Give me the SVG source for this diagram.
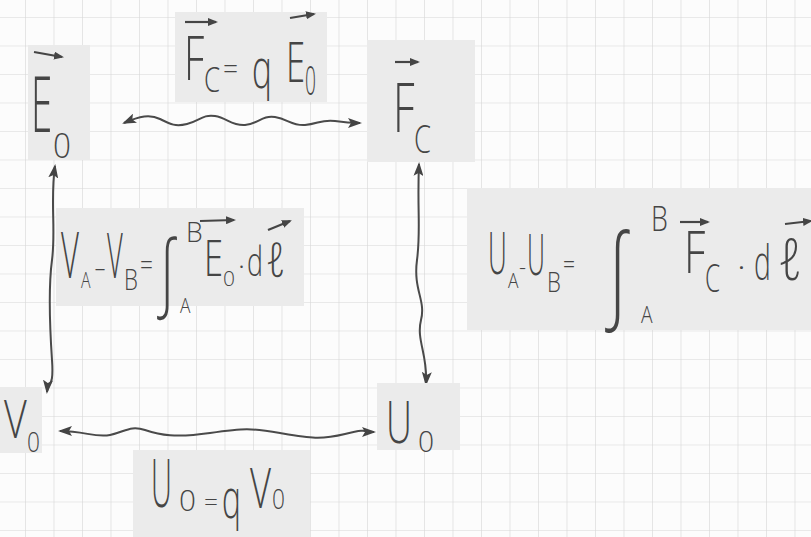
<svg xmlns="http://www.w3.org/2000/svg" width="811" height="537" viewBox="0 0 811 537">
<style>
.ink{font-family:"Open Sans","Liberation Sans",sans-serif;font-weight:300;fill:#454545}
.hl{fill:#ebebeb}
.vec{stroke:#454545;stroke-width:2.2;fill:none;marker-end:url(#vh)}
.conn{stroke:#4a4a4a;stroke-width:2;fill:none;marker-start:url(#ah);marker-end:url(#ah)}
</style>
<defs>
<pattern id="grid" x="25" y="17" width="28.5" height="28.5" patternUnits="userSpaceOnUse">
<path d="M0,0 H28.5 M0,0 V28.5" stroke="#d6d6d6" stroke-width="1.2" fill="none"/>
</pattern>
<marker id="ah" viewBox="0 0 14 10" refX="12" refY="5" markerWidth="14" markerHeight="10" markerUnits="userSpaceOnUse" orient="auto-start-reverse">
<path d="M0,0 L14,5 L0,10 L3,5 Z" fill="#444"/>
</marker>
<marker id="vh" viewBox="0 0 10 8" refX="8" refY="4" markerWidth="10" markerHeight="8" markerUnits="userSpaceOnUse" orient="auto">
<path d="M0,0 L10,4 L0,8 Z" fill="#454545"/>
</marker>
</defs>
<rect width="811" height="537" fill="#fcfcfc"/>
<rect width="811" height="537" fill="url(#grid)"/>

<g id="connectors">
<path class="conn" d="M124,123 C140,116 150,114 160,119 S175,127 187,124 S203,114 215,116 S232,126 245,125 S262,115 275,117 S292,126 305,125 S322,119 335,121 S350,123 360,123"/>
<path class="conn" d="M55,166 C50,200 56,230 52,260 S50,330 52,360 S48,380 47,392"/>
<path class="conn" d="M419,164 C417,210 421,230 417,260 S426,300 421,320 S428,355 426,384"/>
<path class="conn" d="M60,431 C85,431 95,438 110,435 S130,425 145,430 S175,438 210,433 S250,428 280,433 S320,440 345,434 S362,432 374,432"/>
</g>

<g id="node-E0">
<rect class="hl" x="28" y="45" width="62" height="115"/>
<path class="vec" d="M34,52 L62,57"/>
<text class="ink" font-size="77" transform="translate(31,132) scale(0.5,1)">E</text>
<text class="ink" font-size="35" transform="translate(53,158) scale(0.9,1)">0</text>
</g>

<g id="label-Fc-qE0">
<rect class="hl" x="175" y="12" width="152" height="90"/>
<path class="vec" d="M185,22 L216,22"/>
<path class="vec" d="M290,18 L314,14"/>
<text class="ink" font-size="60" transform="translate(184,80) scale(0.67,1)">F</text>
<text class="ink" font-size="35" transform="translate(204,92) scale(0.74,1)">C</text>
<text class="ink" font-size="30" transform="translate(223,79) scale(0.88,1)">=</text>
<text class="ink" font-size="55" transform="translate(252,88) scale(0.61,1)">q</text>
<text class="ink" font-size="55" transform="translate(286,82) scale(0.63,1)">E</text>
<text class="ink" font-size="40" transform="translate(305,95) scale(0.48,1)">0</text>
</g>

<g id="node-Fc">
<rect class="hl" x="367" y="40" width="108" height="122"/>
<path class="vec" d="M395,62 L418,62"/>
<text class="ink" font-size="68" transform="translate(393,132) scale(0.63,1)">F</text>
<text class="ink" font-size="39" transform="translate(414,153) scale(0.7,1)">C</text>
</g>

<g id="label-VA-VB">
<rect class="hl" x="56" y="208" width="248" height="98"/>
<path class="vec" d="M200,221 L234,220"/>
<path class="vec" d="M268,230 L290,221"/>
<text class="ink" font-size="64" transform="translate(61,278) scale(0.485,1)">V</text>
<text class="ink" font-size="22" transform="translate(81,288) scale(0.72,1)">A</text>
<text class="ink" font-size="26" transform="translate(94,277) scale(1.44,1)">-</text>
<text class="ink" font-size="62" transform="translate(107,278) scale(0.44,1)">V</text>
<text class="ink" font-size="30" transform="translate(124,290) scale(0.74,1)">B</text>
<text class="ink" font-size="28" transform="translate(140,275) scale(0.81,1)">=</text>
<text class="ink" font-size="84" transform="translate(157,300) scale(0.68,1)">∫</text>
<text class="ink" font-size="28" transform="translate(186,242) scale(0.95,1)">B</text>
<text class="ink" font-size="20" transform="translate(180,313) scale(0.87,1)">A</text>
<text class="ink" font-size="50" transform="translate(204,276) scale(0.69,1)">E</text>
<text class="ink" font-size="20" transform="translate(223,286) scale(1.05,1)">0</text>
<text class="ink" font-size="28" transform="translate(238,276) scale(1.05,1)">·</text>
<text class="ink" font-size="40" transform="translate(247,276) scale(0.67,1)">d</text>
<text class="ink" font-size="48" transform="translate(266,277) scale(0.83,1)">ℓ</text>
</g>

<g id="label-UA-UB">
<rect class="hl" x="467" y="188" width="344" height="142"/>
<path class="vec" d="M680,222 L708,222"/>
<path class="vec" d="M785,224 L811,221"/>
<text class="ink" font-size="58" transform="translate(488,274) scale(0.45,1)">U</text>
<text class="ink" font-size="20" transform="translate(508,288) scale(0.87,1)">A</text>
<text class="ink" font-size="22" transform="translate(519,275) scale(1,1)">-</text>
<text class="ink" font-size="58" transform="translate(527,275) scale(0.43,1)">U</text>
<text class="ink" font-size="28" transform="translate(547,292) scale(0.79,1)">B</text>
<text class="ink" font-size="26" transform="translate(563,273) scale(0.81,1)">=</text>
<text class="ink" font-size="104" transform="translate(605,308) scale(0.68,1)">∫</text>
<text class="ink" font-size="34" transform="translate(651,231) scale(0.79,1)">B</text>
<text class="ink" font-size="24" transform="translate(641,323) scale(0.8,1)">A</text>
<text class="ink" font-size="58" transform="translate(684,273) scale(0.73,1)">F</text>
<text class="ink" font-size="38" transform="translate(705,292) scale(0.64,1)">C</text>
<text class="ink" font-size="32" transform="translate(737,278) scale(1.16,1)">·</text>
<text class="ink" font-size="48" transform="translate(754,280) scale(0.59,1)">d</text>
<text class="ink" font-size="58" transform="translate(778,280) scale(0.84,1)">ℓ</text>
</g>

<g id="node-V0">
<rect class="hl" x="0" y="387" width="42" height="66"/>
<text class="ink" font-size="54" transform="translate(4,438) scale(0.73,1)">V</text>
<text class="ink" font-size="28" transform="translate(27,452) scale(0.81,1)">0</text>
</g>

<g id="node-U0">
<rect class="hl" x="377" y="383" width="83" height="67"/>
<text class="ink" font-size="58" transform="translate(386,443) scale(0.62,1)">U</text>
<text class="ink" font-size="30" transform="translate(418,452) scale(0.94,1)">0</text>
</g>

<g id="label-U0-qV0">
<rect class="hl" x="133" y="450" width="177" height="87"/>
<text class="ink" font-size="66" transform="translate(151,507) scale(0.44,1)">U</text>
<text class="ink" font-size="30" transform="translate(179,511) scale(0.99,1)">0</text>
<text class="ink" font-size="24" transform="translate(204,511) scale(1.02,1)">=</text>
<text class="ink" font-size="56" transform="translate(222,518) scale(0.57,1)">q</text>
<text class="ink" font-size="56" transform="translate(250,508) scale(0.65,1)">V</text>
<text class="ink" font-size="28" transform="translate(272,509) scale(0.81,1)">0</text>
</g>
</svg>
